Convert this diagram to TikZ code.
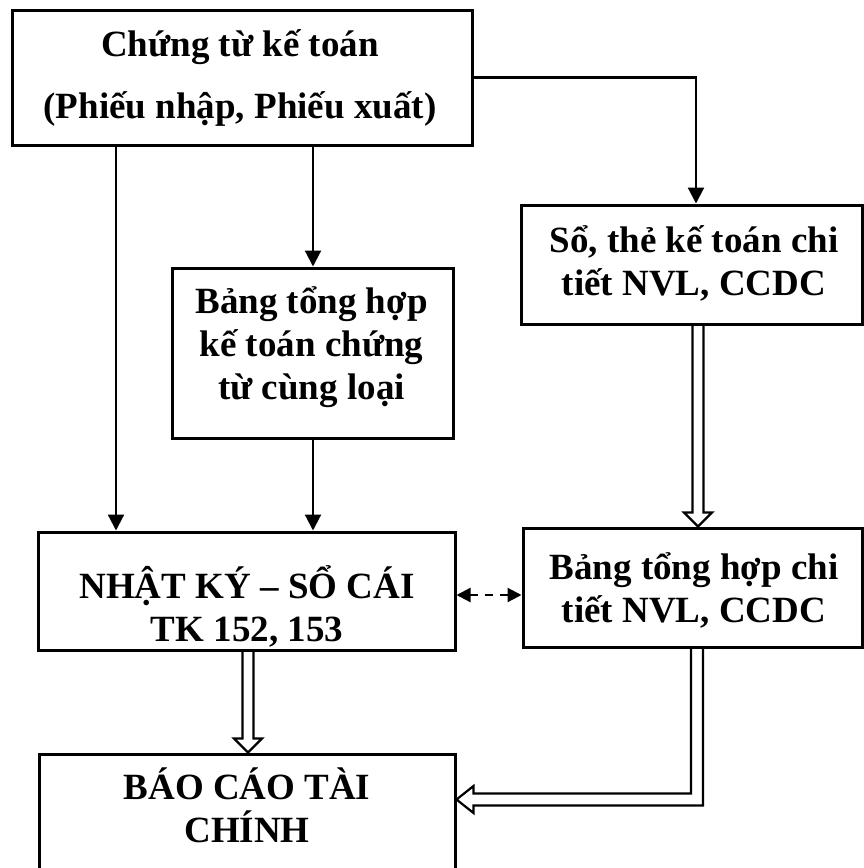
\documentclass[tikz,border=0pt]{standalone}
\usepackage{fontspec}
\setmainfont{Liberation Serif}
\usetikzlibrary{arrows.meta,calc}

% first-line strut so that every text block has the same top above its first baseline
\newcommand\toprule{\rule{0pt}{36pt}}

\tikzset{
  box/.style={draw, line width=3pt, inner sep=0pt},
  txt/.style={anchor=north, align=center, inner sep=0pt,
              font=\bfseries\fontsize{37}{43}\selectfont},
  link/.style={line width=2.2pt, -{Triangle[length=16pt,width=16pt]}},
  duallink/.style={line width=2.2pt, dash pattern=on 8pt off 7pt,
                   {Triangle[length=14pt,width=14pt]}-{Triangle[length=14pt,width=14pt]}},
  hollow/.style={line width=2.2pt, line join=miter},
}

\begin{document}
\begin{tikzpicture}[x=1pt,y=-1pt]
  \useasboundingbox (0,0) rectangle (863,868);

  % boxes
  \node[box, minimum width=460, minimum height=135] (A) at (242,77.5) {};
  \node[box, minimum width=281, minimum height=170] (B) at (312.5,353) {};
  \node[box, minimum width=341, minimum height=119] (C) at (691.5,264.5) {};
  \node[box, minimum width=417, minimum height=118] (D) at (246.5,591) {};
  \node[box, minimum width=339, minimum height=119] (E) at (692.5,587.5) {};
  \node[box, minimum width=416, minimum height=118] (F) at (247,813) {};

  % box texts (placed 36pt above the first baseline)
  \node[txt] (At) at (240,20)
    {\toprule Chứng từ kế toán\\[19pt](Phiếu nhập, Phiếu xuất)};
  \node[txt] (Bt) at (311.5,277)
    {\toprule Bảng tổng hợp\\kế toán chứng\\từ cùng loại};
  \node[txt] (Ct) at (694,216)
    {\toprule Sổ, thẻ kế toán chi\\tiết NVL, CCDC};
  \node[txt] (Dt) at (247,562)
    {\toprule NHẬT KÝ – SỔ CÁI\\TK 152, 153};
  \node[txt] (Et) at (694,543)
    {\toprule Bảng tổng hợp chi\\tiết NVL, CCDC};
  \node[txt] (Ft) at (247,763)
    {\toprule BÁO CÁO TÀI\\CHÍNH};

  % guide positions for the connectors
  \coordinate (xl) at (116,0);
  \coordinate (xm) at (313,0);
  \coordinate (yd) at (0,595);

  % single-line connectors
  \draw[link] (A.east) -| ([xshift=4.5pt]C.north);
  \draw[link] (A.south -| xl) -- (D.north -| xl);
  \draw[link] (A.south -| xm) -- (B.north -| xm);
  \draw[link] (B.south -| xm) -- (D.north -| xm);
  \draw[duallink] (D.east |- yd) -- (E.west |- yd);

  % hollow block arrow C -> E
  \coordinate (p1) at ([xshift=6.5pt]C.south);
  \coordinate (q1) at ([xshift=5.5pt]E.north);
  \draw[hollow] ($(p1)+(-5.5,0)$) -- ($(q1)+(-5.5,-14)$) -- ($(q1)+(-14,-14)$)
    -- (q1) -- ($(q1)+(14,-14)$) -- ($(q1)+(5.5,-14)$) -- ($(p1)+(5.5,0)$);

  % hollow block arrow D -> F
  \coordinate (p2) at ([xshift=1.5pt]D.south);
  \coordinate (q2) at ([xshift=1pt]F.north);
  \draw[hollow] ($(p2)+(-5.5,0)$) -- ($(q2)+(-5.5,-14)$) -- ($(q2)+(-14,-14)$)
    -- (q2) -- ($(q2)+(14,-14)$) -- ($(q2)+(5.5,-14)$) -- ($(p2)+(5.5,0)$);

  % hollow elbow arrow E -> F
  \coordinate (p3) at ([xshift=4.5pt]E.south);
  \coordinate (q3) at (F.east |- 0,799.5);
  \coordinate (k3) at (p3 |- q3);
  \draw[hollow] ($(p3)+(6,0)$) -- ($(k3)+(6,6)$) -- ($(q3)+(17,6)$)
    -- ($(q3)+(17,13.5)$) -- (q3) -- ($(q3)+(17,-13.5)$) -- ($(q3)+(17,-6)$)
    -- ($(k3)+(-6,-6)$) -- ($(p3)+(-6,0)$);
\end{tikzpicture}
\end{document}
